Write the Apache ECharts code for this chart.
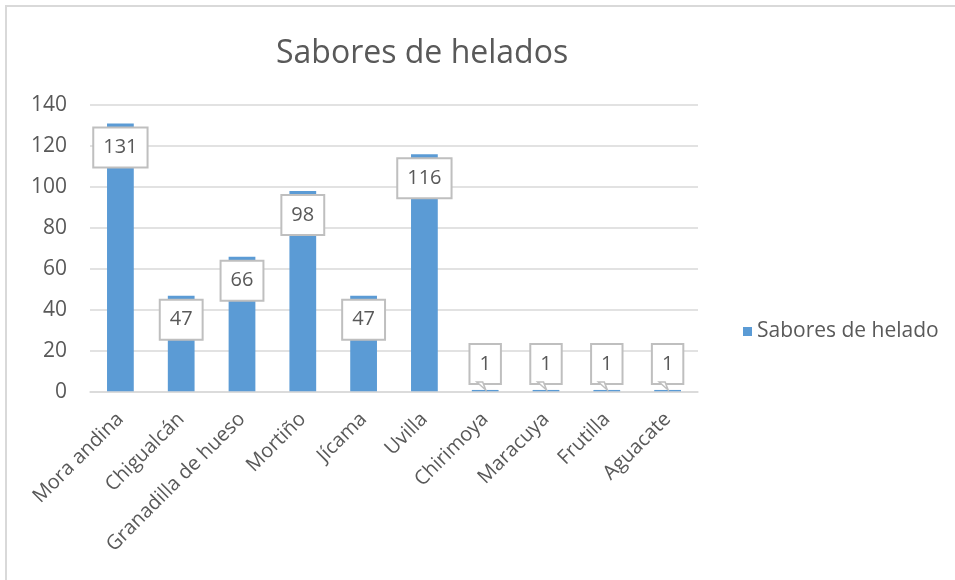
<!DOCTYPE html>
<html>
<head>
<meta charset="utf-8">
<title>Sabores de helados</title>
<script src="https://cdn.jsdelivr.net/npm/echarts@6/dist/echarts.min.js"></script>
<style>
  html, body { margin: 0; padding: 0; background: #fff; }
  #chart { width: 955px; height: 580px; }
</style>
</head>
<body>
<div id="chart"></div>
<script>
// datos del gráfico
const categorias = ['Mora andina', 'Chigualcán', 'Granadilla de hueso', 'Mortiño', 'Jícama',
  'Uvilla', 'Chirimoya', 'Maracuya', 'Frutilla', 'Aguacate'];
const valores = [131, 47, 66, 98, 47, 116, 1, 1, 1, 1];
const nombreSerie = 'Sabores de helado';

const gris = '#595959';
const lineaGris = '#D9D9D9';
const bordeEtiqueta = '#BFBFBF';
const fuente = '"Open Sans", "Noto Sans", sans-serif';

// etiqueta tipo globo: dentro de la barra si cabe, encima si no
const datos = valores.map(v => {
  const item = { value: v };
  if (v < 20) {
    item.label = { position: 'top', distance: 7 };
  }
  return item;
});

// colita del globo para las etiquetas que van encima
const colitas = [];
valores.forEach((v, i) => {
  if (v < 20) colitas.push({ coord: [i, v] });
});

const chart = echarts.init(document.getElementById('chart'));
chart.setOption({
  animation: false,
  textStyle: { fontFamily: fuente },
  graphic: [{
    type: 'rect',
    shape: { x: 6, y: 6, width: 1000, height: 1000 },
    style: { fill: 'none', stroke: lineaGris, lineWidth: 2 },
    silent: true
  }],
  title: {
    text: 'Sabores de helados',
    left: 271,
    top: 33,
    textStyle: { color: gris, fontSize: 32, fontWeight: 'normal', fontFamily: fuente }
  },
  legend: {
    data: [nombreSerie],
    orient: 'vertical',
    left: 738,
    top: 316,
    icon: 'rect',
    itemWidth: 9,
    itemHeight: 9,
    itemGap: 6,
    textStyle: { color: gris, fontSize: 21, fontFamily: fuente }
  },
  grid: { left: 90, right: 257, top: 105, bottom: 188 },
  xAxis: {
    type: 'category',
    data: categorias,
    z: 3,
    axisLine: { lineStyle: { color: lineaGris, width: 1.5 } },
    axisTick: { length: 6, lineStyle: { color: lineaGris, width: 1.5 } },
    axisLabel: { rotate: 45, color: gris, fontSize: 20, margin: 24, interval: 0, fontFamily: fuente }
  },
  yAxis: {
    type: 'value',
    min: 0,
    max: 140,
    interval: 20,
    axisLine: { show: false },
    axisTick: { show: false },
    axisLabel: { color: gris, fontSize: 21, margin: 23, fontFamily: fuente },
    splitLine: { lineStyle: { color: lineaGris, width: 1.5 } }
  },
  series: [{
    name: nombreSerie,
    type: 'bar',
    data: datos,
    barWidth: '44%',
    itemStyle: { color: '#5B9BD5' },
    label: {
      show: true,
      position: 'insideTop',
      distance: 5,
      color: gris,
      fontSize: 20,
      fontFamily: fuente,
      lineHeight: 20,
      backgroundColor: '#fff',
      borderColor: bordeEtiqueta,
      borderWidth: 2,
      padding: [9, 9]
    },
    markPoint: {
      silent: true,
      symbol: 'path://M0,0 L6,0 L9,8 Z',
      symbolSize: [9, 8],
      symbolOffset: [-4, -4],
      itemStyle: { color: '#fff', borderColor: bordeEtiqueta, borderWidth: 1.5 },
      label: { show: false },
      data: colitas
    }
  }]
});
</script>
</body>
</html>
